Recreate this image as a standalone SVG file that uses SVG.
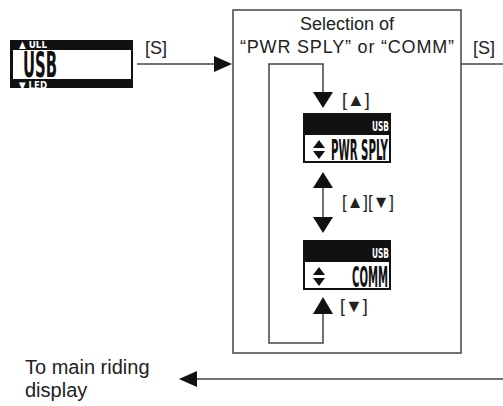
<svg xmlns="http://www.w3.org/2000/svg" width="503" height="406" viewBox="0 0 503 406">
<defs>
<style>
.lbl{font-family:"Liberation Sans",Arial,sans-serif;font-size:18px;fill:#222}
.big{font-size:20px}
.lcd{font-family:"Liberation Sans Narrow","DejaVu Sans Condensed","Liberation Sans",sans-serif;font-weight:bold}
.ln{fill:none;stroke:#444;stroke-width:1.5}
.ah{fill:#111}
</style>
<clipPath id="clipTop"><rect x="10" y="41" width="123" height="8"/></clipPath>
<clipPath id="clipBot"><rect x="10" y="80" width="123" height="8"/></clipPath>
</defs>

<g id="lcd-usb">
<rect x="10" y="40" width="123" height="48" fill="#111"/>
<rect x="13" y="50" width="118" height="29" fill="#fff"/>
<text class="lcd" x="19" y="48" font-size="10" fill="#fff" clip-path="url(#clipTop)" textLength="28" lengthAdjust="spacingAndGlyphs">▲ ULL</text>
<text class="lcd" x="23" y="77" font-size="35" fill="#111" textLength="34" lengthAdjust="spacingAndGlyphs">USB</text>
<text class="lcd" x="19" y="89" font-size="10" fill="#fff" clip-path="url(#clipBot)" textLength="28" lengthAdjust="spacingAndGlyphs">▼ LED</text>
</g>

<g id="selection-box">
<rect x="233" y="10" width="228" height="343" class="ln"/>
<text class="lbl" x="347" y="30" text-anchor="middle">Selection of</text>
<text class="lbl" x="347" y="53" text-anchor="middle" font-size="18.5" textLength="214" lengthAdjust="spacing">“PWR SPLY” or “COMM”</text>
</g>

<g id="lcd-pwr">
<rect x="303" y="113" width="88" height="50" fill="#111"/>
<rect x="305" y="135" width="84" height="26" fill="#fff"/>
<text class="lcd" x="372" y="131" font-size="14" fill="#fff" textLength="17" lengthAdjust="spacingAndGlyphs">USB</text>
<polygon points="313,148 319,140 325,148" fill="#111"/>
<polygon points="313,151 319,159 325,151" fill="#111"/>
<text class="lcd" x="331" y="160" font-size="28" fill="#111" textLength="57" lengthAdjust="spacingAndGlyphs">PWR SPLY</text>
</g>

<g id="lcd-comm">
<rect x="303" y="240" width="88" height="50" fill="#111"/>
<rect x="305" y="262" width="84" height="26" fill="#fff"/>
<text class="lcd" x="372" y="258" font-size="14" fill="#fff" textLength="17" lengthAdjust="spacingAndGlyphs">USB</text>
<polygon points="313,275 319,267 325,275" fill="#111"/>
<polygon points="313,278 319,286 325,278" fill="#111"/>
<text class="lcd" x="352" y="287" font-size="28" fill="#111" textLength="36" lengthAdjust="spacingAndGlyphs">COMM</text>
</g>

<g id="connectors">
<line x1="137" y1="64" x2="215" y2="64" class="ln"/>
<polygon points="214,56 232,64 214,72" class="ah"/>
<text class="lbl" x="145" y="54">[S]</text>

<line x1="461" y1="64" x2="503" y2="64" class="ln"/>
<text class="lbl" x="473" y="54">[S]</text>

<path d="M323,93 V64 H269 V343 H323 V313" class="ln"/>
<polygon points="313,92 333,92 323,108" class="ah"/>
<text class="lbl" x="342" y="106">[▲]</text>

<line x1="323" y1="187" x2="323" y2="218" class="ln"/>
<polygon points="313,188 333,188 323,172" class="ah"/>
<polygon points="313,217 333,217 323,233" class="ah"/>
<text class="lbl" x="342" y="208" textLength="52" lengthAdjust="spacingAndGlyphs">[▲][▼]</text>

<polygon points="313,314 333,314 323,297" class="ah"/>
<text class="lbl" x="340" y="312">[▼]</text>

<line x1="196" y1="379" x2="503" y2="379" class="ln"/>
<polygon points="197,371 179,379 197,387" class="ah"/>
</g>

<g id="exit-label">
<text class="lbl big" x="25" y="374">To main riding</text>
<text class="lbl big" x="25" y="397">display</text>
</g>
</svg>
